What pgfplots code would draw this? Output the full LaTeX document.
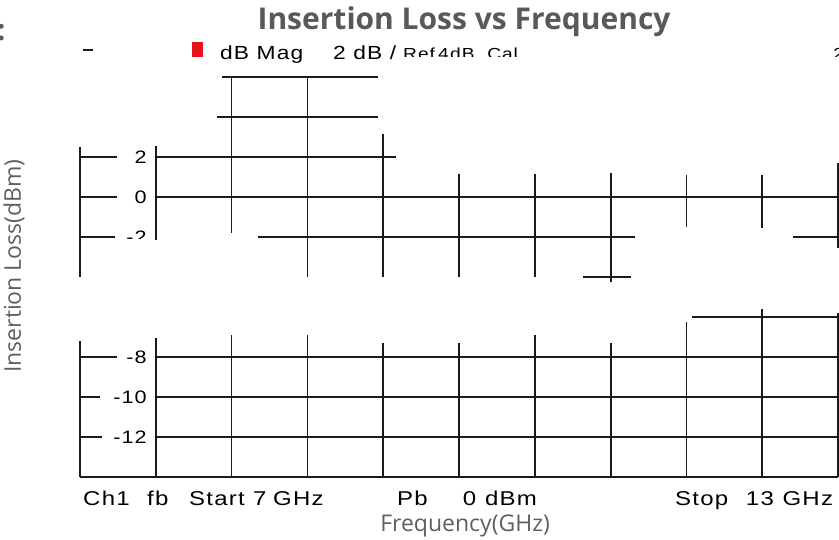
\documentclass[border=0pt]{standalone}
\usepackage{pgfplots}
\pgfplotsset{compat=1.18}
\usepackage{fontspec}
\setmainfont{Open Sans}
\newfontfamily\vna[FakeStretch=1.2,LetterSpace=6]{Liberation Sans}
\definecolor{titlegray}{HTML}{595959}
\definecolor{labelgray}{HTML}{5F5F5F}
\definecolor{gridink}{HTML}{1A1A1A}
\definecolor{markred}{HTML}{E8141C}

% screen trace segments: x in GHz, y in dB, rows of nan break the line
\pgfplotstableread{
x y
7.0 2.5
7.0 -4.0
7.0 nan
7.6 2.55
7.6 -2.15
7.6 nan
8.2 6.0
8.2 -1.8
8.2 nan
8.8 6.0
8.8 -4.0
8.8 nan
9.4 3.15
9.4 -4.0
9.4 nan
10.0 1.15
10.0 -4.0
10.0 nan
10.6 1.15
10.6 -4.0
10.6 nan
11.2 1.2
11.2 -4.25
11.2 nan
11.8 1.1
11.8 -1.5
11.8 nan
12.4 1.1
12.4 -1.55
12.4 nan
13.0 1.7
13.0 -2.55
13.0 nan
7.0 -7.2
7.0 -14.0
7.0 nan
7.6 -7.05
7.6 -14.0
7.6 nan
8.2 -6.9
8.2 -14.0
8.2 nan
8.8 -6.9
8.8 -14.0
8.8 nan
9.4 -7.3
9.4 -14.0
9.4 nan
10.0 -7.3
10.0 -14.0
10.0 nan
10.6 -6.9
10.6 -14.0
10.6 nan
11.2 -7.3
11.2 -14.0
11.2 nan
11.8 -6.25
11.8 -14.0
11.8 nan
12.4 -5.6
12.4 -14.0
12.4 nan
13.0 -5.8
13.0 -14.0
13.0 nan
8.124 6.0
9.359 6.0
9.359 nan
8.084 4.0
9.359 4.0
9.359 nan
7.0 2.0
7.293 2.0
7.293 nan
7.6 2.0
9.501 2.0
9.501 nan
7.0 0.0
7.293 0.0
7.293 nan
7.6 0.0
13.0 0.0
13.0 nan
7.0 -2.0
7.277 -2.0
7.277 nan
8.409 -2.0
11.393 -2.0
11.393 nan
12.644 -2.0
13.0 -2.0
13.0 nan
10.982 -4.0
11.362 -4.0
11.362 nan
11.844 -6.0
13.0 -6.0
13.0 nan
7.0 -8.0
7.293 -8.0
7.293 nan
7.6 -8.0
13.0 -8.0
13.0 nan
7.0 -10.0
7.158 -10.0
7.158 nan
7.6 -10.0
13.0 -10.0
13.0 nan
7.0 -12.0
7.174 -12.0
7.174 nan
7.6 -12.0
13.0 -12.0
13.0 nan
7.0 -14.0
13.0 -14.0
}\screentrace

\begin{document}
\begin{tikzpicture}
\begin{axis}[
    width=839pt, height=539pt, scale only axis,
    xmin=6.3668, xmax=13.0079,
    ymin=-17.1, ymax=9.85,
    hide axis, clip=false,
    unbounded coords=jump,
]
\addplot[gridink, line width=1.8pt] table[x=x, y=y] {\screentrace};
\addplot[gridink, line width=1.2pt] coordinates {(7.024,7.35) (7.103,7.35)};

% marker flag
\fill[markred] (axis cs:7.887,7.0) rectangle (axis cs:7.974,7.75);

% y tick labels of the screen
\node[anchor=east, inner sep=0, font=\vna\fontsize{18}{18}\selectfont] at (axis cs:7.53,2) {2};
\node[anchor=east, inner sep=0, font=\vna\fontsize{18}{18}\selectfont] at (axis cs:7.53,0) {0};
\node[anchor=east, inner sep=0, font=\vna\fontsize{18}{18}\selectfont] at (axis cs:7.53,-8) {-8};
\node[anchor=east, inner sep=0, font=\vna\fontsize{18}{18}\selectfont] at (axis cs:7.53,-10) {-10};
\node[anchor=east, inner sep=0, font=\vna\fontsize{18}{18}\selectfont] at (axis cs:7.53,-12) {-12};

% header line of the screen
\node[anchor=base west, inner sep=0, font=\vna\fontsize{19}{19}\selectfont] at (axis cs:8.108,6.85) {dB Mag};
\node[anchor=base west, inner sep=0, font=\vna\fontsize{19}{19}\selectfont] at (axis cs:9.003,6.85) {2 dB /};

% footer line of the screen
\node[anchor=base west, inner sep=0, font=\vna\fontsize{20}{20}\selectfont] at (axis cs:7.024,-15.4) {Ch1};
\node[anchor=base west, inner sep=0, font=\vna\fontsize{20}{20}\selectfont] at (axis cs:7.530,-15.4) {fb};
\node[anchor=base west, inner sep=0, font=\vna\fontsize{20}{20}\selectfont] at (axis cs:7.863,-15.4) {Start};
\node[anchor=base west, inner sep=0, font=\vna\fontsize{20}{20}\selectfont] at (axis cs:8.369,-15.4) {7};
\node[anchor=base west, inner sep=0, font=\vna\fontsize{20}{20}\selectfont] at (axis cs:8.528,-15.4) {GHz};
\node[anchor=base west, inner sep=0, font=\vna\fontsize{20}{20}\selectfont] at (axis cs:9.509,-15.4) {Pb};
\node[anchor=base west, inner sep=0, font=\vna\fontsize{20}{20}\selectfont] at (axis cs:10.030,-15.4) {0};
\node[anchor=base west, inner sep=0, font=\vna\fontsize{20}{20}\selectfont] at (axis cs:10.205,-15.4) {dBm};
\node[anchor=base west, inner sep=0, font=\vna\fontsize{20}{20}\selectfont] at (axis cs:11.710,-15.4) {Stop};
\node[anchor=base west, inner sep=0, font=\vna\fontsize{20}{20}\selectfont] at (axis cs:12.270,-15.4) {13};
\node[anchor=base west, inner sep=0, font=\vna\fontsize{20}{20}\selectfont] at (axis cs:12.560,-15.4) {GHz};

% slide title and axis labels
\node[anchor=base, inner sep=0, font=\bfseries\fontsize{30}{30}\selectfont, text=titlegray] at (axis cs:10.04,8.35) {Insertion Loss vs Frequency};
\node[anchor=base west, inner sep=0, font=\bfseries\fontsize{29}{29}\selectfont, text=titlegray] at (axis cs:6.343,7.8) {:};
\node[rotate=90, inner sep=0, font=\fontsize{23}{23}\selectfont, text=labelgray] at (axis cs:6.4776,-3.45) {Insertion Loss(dBm)};
\node[anchor=base, inner sep=0, font=\fontsize{23}{23}\selectfont, text=labelgray] at (axis cs:10.048,-16.7) {Frequency(GHz)};

% anchors used after the axis
\coordinate (bl) at (rel axis cs:0,0);
\coordinate (tr) at (rel axis cs:1,1);
\coordinate (clipA) at (axis cs:9.45,7.0);
\coordinate (clipB) at (axis cs:13.2,9.0);
\coordinate (pRef) at (axis cs:9.557,6.85);
\coordinate (pFour) at (axis cs:9.834,6.85);
\coordinate (pDb) at (axis cs:9.929,6.85);
\coordinate (pCal) at (axis cs:10.222,6.85);
\coordinate (pTwo) at (axis cs:12.961,6.85);
\coordinate (clipC) at (axis cs:7.2,-2.08);
\coordinate (clipD) at (axis cs:7.58,-1.0);
\coordinate (pMinusTwo) at (axis cs:7.53,-2);
\end{axis}

% header text cut off half way, as on the screen grab
\begin{scope}
\clip (clipA) rectangle (clipB);
\node[anchor=base west, inner sep=0, font=\vna\fontsize{16}{16}\selectfont] at (pRef) {Ref};
\node[anchor=base west, inner sep=0, font=\vna\fontsize{16}{16}\selectfont] at (pFour) {4};
\node[anchor=base west, inner sep=0, font=\vna\fontsize{16}{16}\selectfont] at (pDb) {dB};
\node[anchor=base west, inner sep=0, font=\vna\fontsize{16}{16}\selectfont] at (pCal) {Cal};
\node[anchor=base west, inner sep=0, font=\vna\fontsize{16}{16}\selectfont] at (pTwo) {2};
\end{scope}
\begin{scope}
\clip (clipC) rectangle (clipD);
\node[anchor=east, inner sep=0, font=\vna\fontsize{18}{18}\selectfont] at (pMinusTwo) {-2};
\end{scope}

\pgfresetboundingbox
\path[use as bounding box] (bl) rectangle (tr);
\end{tikzpicture}
\end{document}
